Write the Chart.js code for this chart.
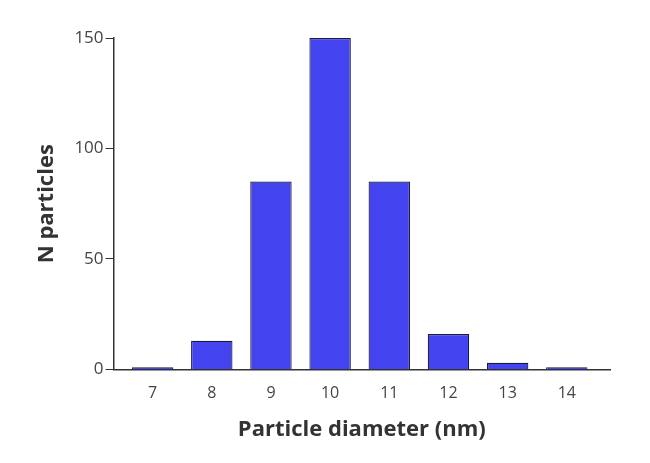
<!DOCTYPE html>
<html>
<head>
<meta charset="utf-8">
<script src="https://cdn.jsdelivr.net/npm/chart.js@4/dist/chart.umd.min.js"></script>
<style>
  html, body { margin: 0; padding: 0; background: #fff; }
  #wrap { width: 650px; height: 463px; }
</style>
</head>
<body>
<div id="wrap"><canvas id="grafico"></canvas></div>
<script>
// diametros (nm) y cantidad de particulas
const diametros = [7, 8, 9, 10, 11, 12, 13, 14];
const particulas = [1, 13, 85, 150, 85, 16, 3, 1];
const yTicks = [0, 50, 100, 150];

const puntos = diametros.map((d, i) => ({ x: d, y: particulas[i] }));

const fuente = "'Open Sans', 'Liberation Sans', sans-serif";

const config = {
    type: 'bar',
    data: {
        datasets: [{
            label: 'N particles',
            data: puntos,
            backgroundColor: '#4343f0',
            borderColor: '#1a1a3a',
            borderWidth: 1.2,
            barPercentage: 0.7,
            categoryPercentage: 1
        }]
    },
    options: {
        responsive: true,
        maintainAspectRatio: false,
        animation: false,
        layout: { padding: { left: 30, right: 40, top: 38, bottom: 16 } },
        plugins: { legend: { display: false }, tooltip: { enabled: false } },
        scales: {
            x: {
                type: 'linear',
                offset: false,
                min: 6.34,
                max: 14.73,
                afterBuildTicks: scale => { scale.ticks = diametros.map(v => ({ value: v })); },
                grid: { display: false, drawTicks: false },
                border: { display: true, color: '#333', width: 1.5 },
                ticks: { color: '#444', font: { family: fuente, size: 16 }, padding: 14 },
                title: {
                    display: true,
                    text: 'Particle diameter (nm)',
                    color: '#333',
                    font: { family: fuente, size: 22, weight: 'bold' },
                    padding: { top: 0 }
                }
            },
            y: {
                min: 0,
                max: 150,
                afterBuildTicks: scale => { scale.ticks = yTicks.map(v => ({ value: v })); },
                grid: { drawOnChartArea: false, drawTicks: true, tickLength: 8, color: '#333' },
                border: { display: true, color: '#333', width: 1.5 },
                ticks: { color: '#444', font: { family: fuente, size: 17 }, padding: 2 },
                title: {
                    display: true,
                    text: 'N particles',
                    color: '#333',
                    font: { family: fuente, size: 22, weight: 'bold' },
                    padding: { bottom: 12 }
                }
            }
        }
    }
};

const chart = new Chart(document.getElementById('grafico'), config);
</script>
</body>
</html>
